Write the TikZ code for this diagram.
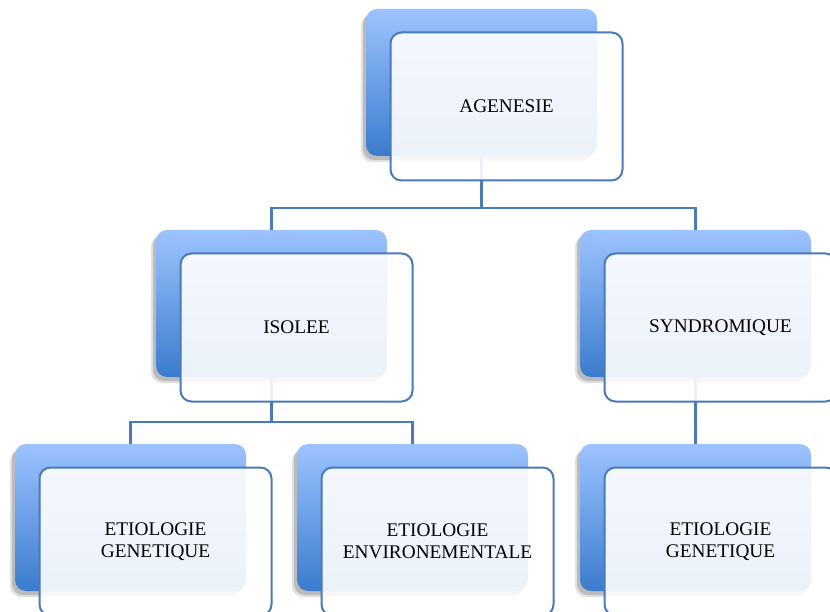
\documentclass[tikz,border=0pt]{standalone}
\usepackage{fontspec}
\setmainfont{Liberation Serif}
\usetikzlibrary{shadows,calc}
\definecolor{hautbleu}{RGB}{157,195,255}
\definecolor{basbleu}{RGB}{58,124,205}
\definecolor{trait}{RGB}{74,122,184}

\begin{document}
\begin{tikzpicture}[x=1pt,y=-1pt,
fond/.style={rectangle,rounded corners=11pt,minimum width=231pt,minimum height=147pt,inner sep=0pt,
  top color=hautbleu,bottom color=basbleu,
  general shadow={shadow xshift=-5pt,shadow yshift=-6pt,opacity=0.12,fill=black},
  drop shadow={shadow xshift=-3pt,shadow yshift=-4pt,opacity=0.25,fill=black!70}},
devant/.style={rectangle,rounded corners=11pt,minimum width=232pt,minimum height=148pt,inner sep=0pt,
  draw=trait,line width=2pt,fill=white,fill opacity=0.9,text opacity=1,align=center,
  font=\fontsize{19.3}{21.5}\selectfont},
lien/.style={draw=trait,line width=2.2pt}]
\useasboundingbox (0,0) rectangle (830,612);
% boites du fond
\foreach \nom/\x/\y in {agen/366/9,isol/156/230,synd/580/230,genA/15/444,envi/297/444,genB/580/444}
\node[fond] (\nom-f) at (\x+115.5,\y+73.5) {};
% liens
\draw[lien] (agen-f.south) -- ++(0,52) coordinate (j1) -| (isol-f.north);
\draw[lien] (j1) -| (synd-f.north);
\draw[lien] (isol-f.south) -- ++(0,45) coordinate (j2) -| (genA-f.north);
\draw[lien] (j2) -| (envi-f.north);
\draw[lien] (synd-f.south) -- (genB-f.north);
% boites de devant
\foreach \nom/\txt in {agen/AGENESIE,isol/ISOLEE,synd/SYNDROMIQUE,genA/{ETIOLOGIE\\GENETIQUE},
  envi/{ETIOLOGIE\\ENVIRONEMENTALE},genB/{ETIOLOGIE\\GENETIQUE}}
\node[devant] (\nom) at ($(\nom-f)+(25,24)$) {\txt};
\end{tikzpicture}
\end{document}
